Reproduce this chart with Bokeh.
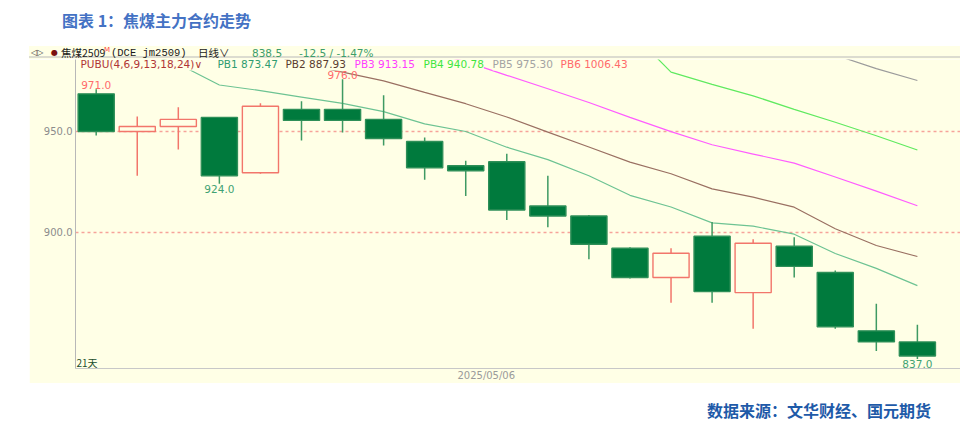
import numpy as np
from bokeh.plotting import figure
from bokeh.models import (ColumnDataSource, Range1d, FixedTicker, NumeralTickFormatter,
                          Label, Div)
from bokeh.layouts import column
from bokeh.embed import file_html
from bokeh.resources import INLINE

# ---------------- data ----------------
opens  = [968.7, 950.0, 952.5, 957.0, 929.5, 961.0, 961.0, 956.0, 945.0, 933.0, 935.0,
          913.0, 908.0, 892.0, 877.5, 898.0, 870.0, 893.0, 880.0, 851.0, 845.5]
highs  = [971.0, 957.5, 962.0, 957.0, 964.0, 965.0, 976.0, 968.0, 947.0, 935.5, 939.0,
          928.0, 908.5, 892.5, 892.0, 905.0, 896.5, 897.5, 881.0, 864.5, 854.0]
lows   = [948.0, 928.0, 941.0, 924.0, 929.0, 945.5, 949.5, 943.0, 926.0, 918.0, 906.0,
          902.5, 886.5, 877.0, 865.0, 865.0, 852.0, 877.5, 852.0, 841.0, 837.0]
closes = [950.0, 952.5, 956.0, 928.0, 962.5, 955.5, 955.5, 946.5, 932.0, 930.5, 911.0,
          908.0, 894.0, 877.5, 889.5, 870.5, 894.5, 883.0, 853.0, 845.5, 838.5]

nan = float("nan")
pb1 = [996.0, 990.0, 983.5, 973.1, 970.3, 967.1, 964.0, 959.9, 953.8, 950.0, 942.2,
       936.0, 928.0, 918.3, 912.5, 904.6, 903.0, 899.0, 889.4, 882.0, 873.47]
pb2 = [nan, nan, nan, 994.0, 990.0, 983.5, 979.5, 975.1, 969.4, 963.8, 957.2,
       949.7, 942.3, 934.8, 929.0, 921.5, 917.4, 912.4, 901.7, 893.4, 887.93]
pb3 = [nan, nan, nan, nan, nan, nan, nan, 996.0, 990.0, 984.7, 977.9,
       971.2, 964.4, 957.0, 949.9, 943.4, 938.8, 934.3, 927.4, 920.4, 913.15]
pb4 = [nan, nan, nan, nan, nan, nan, nan, nan, nan, nan, nan,
       nan, nan, 1000.0, 979.5, 973.4, 967.7, 961.0, 954.6, 947.9, 940.78]
pb5 = [nan] * 18 + [988.0, 981.2, 975.30]
pb6 = [nan] * 20 + [1006.43]

prev_settle = 851.0
y_ticks = [900, 950]
date_tick = 9.5
date_label = "2025/05/06"
hi_idx = [0, 6]
lo_idx = [3, 20]
n_days = len(closes)

# ---------------- styles ----------------
CREAM = "#FFFFE6"
GREEN = "#007A3D"
RED = "#F2766B"
NUMF = "DejaVu Sans"
CJK = "Noto Sans CJK SC"
FIG_LEFT = 29

x = np.arange(n_days)
up = [c >= o for o, c in zip(opens, closes)]
src = ColumnDataSource(dict(
    x=x, high=highs, low=lows,
    top=[max(o, c) for o, c in zip(opens, closes)],
    bottom=[min(o, c) for o, c in zip(opens, closes)],
    fill=[CREAM if u else GREEN for u in up],
    line=[RED if u else "#2E8F58" for u in up],
    wick=[RED if u else "#3E9A63" for u in up],
))

p = figure(frame_width=885, frame_height=309, output_backend="svg", toolbar_location=None,
           x_range=Range1d(-0.504, 21.05), y_range=Range1d(832.3, 985.75),
           min_border_left=46, min_border_right=0, min_border_top=0, min_border_bottom=12,
           background_fill_color=CREAM, border_fill_color=CREAM, outline_line_color=None,
           margin=(0, 0, 0, FIG_LEFT))

p.xgrid.visible = False
p.ygrid.ticker = FixedTicker(ticks=y_ticks)
p.ygrid.grid_line_color = "#F6A39A"
p.ygrid.grid_line_dash = "3 3"
p.ygrid.grid_line_width = 1.5

p.yaxis.ticker = FixedTicker(ticks=y_ticks)
p.yaxis.formatter = NumeralTickFormatter(format="0.0")
p.yaxis.major_tick_in = 0
p.yaxis.major_tick_out = 0
p.yaxis.minor_tick_in = 0
p.yaxis.minor_tick_out = 0
p.yaxis.axis_line_color = "#B8B8B8"
p.yaxis.major_label_text_color = "#8C8C8C"
p.yaxis.major_label_text_font = NUMF
p.yaxis.major_label_text_font_size = "10px"
p.yaxis.major_label_standoff = 3

p.xaxis.ticker = FixedTicker(ticks=[date_tick])
p.xaxis.major_label_overrides = {date_tick: date_label}
p.xaxis.major_tick_in = 0
p.xaxis.major_tick_out = 0
p.xaxis.minor_tick_in = 0
p.xaxis.minor_tick_out = 0
p.xaxis.axis_line_color = "#C8C8C8"
p.xaxis.major_label_text_color = "#9A9A9A"
p.xaxis.major_label_text_font = NUMF
p.xaxis.major_label_text_font_size = "10px"
p.xaxis.major_label_standoff = 1

# moving-average (PUBU) lines
for vals, col in [(pb1, "#6DC393"), (pb2, "#9A7062"), (pb3, "#FF5CFF"),
                  (pb4, "#5FEA5F"), (pb5, "#9C9C9C"), (pb6, "#FF7070")]:
    p.line(x, vals, line_color=col, line_width=1.2)

# candles
p.segment(x0="x", y0="low", x1="x", y1="high", line_color="wick", line_width=1.5, source=src)
p.vbar(x="x", width=0.88, top="top", bottom="bottom", fill_color="fill",
       line_color="line", line_width=1.4, source=src)


def xd(px):
    return (px - 95.7) / 41.05


def yd(py):
    return 950 + (131 - py) / 2.014


def lab(px, py, text, color, font=NUMF, size="10.5px", bg=True):
    kw = dict(x=xd(px), y=yd(py), text=text, text_color=color, text_font=font,
              text_font_size=size, text_baseline="middle", text_align="left", padding=0)
    if bg:
        kw.update(background_fill_color=CREAM, background_fill_alpha=1.0)
    p.add_layout(Label(**kw))


# header row 2 (indicator legend) inside the plot
lab(80, 64, "PUBU(4,6,9,13,18,24)∨", "#B03535")
legend_items = [(217, "PB1", pb1, "#2F9C70"), (285, "PB2", pb2, "#5A3C30"),
                (354, "PB3", pb3, "#FF3CFF"), (423, "PB4", pb4, "#3EE63E"),
                (492, "PB5", pb5, "#A3A3A3"), (560, "PB6", pb6, "#FF6A6A")]
for px, name, vals, col in legend_items:
    lab(px, 64, f"{name} {vals[-1]:.2f}", col)

lab(76, 362, f"{n_days}天", "#1B4D2B", font=CJK, size="10px", bg=False)

# high / low labels (drawn on top of the legend strip)
for i in hi_idx:
    p.add_layout(Label(x=x[i], y=highs[i], text=f"{highs[i]:.1f}", text_color="#FF6B6B",
                       text_align="center", text_baseline="bottom", y_offset=0,
                       text_font=NUMF, text_font_size="10.5px"))
for i in lo_idx:
    p.add_layout(Label(x=x[i], y=lows[i], text=f"{lows[i]:.1f}", text_color="#3FA273",
                       text_align="center", text_baseline="top", y_offset=-1,
                       text_font=NUMF, text_font_size="10.5px"))

# header row 1 (contract line) as an HTML strip above the plot
chg = closes[-1] - prev_settle
row1 = [
    (31, 0, "◁▷", "#404040", NUMF, "8px"),
    (51, 0, "●", "#7A1010", NUMF, "8px"),
    (61, 0, "焦煤2509", "#1A1A1A", CJK, "10.5px"),
    (104, -3, "M", "#FF4444", NUMF, "7px"),
    (111, 0, "(DCE jm2509)", "#1A1A1A", "Liberation Mono", "10.5px"),
    (198, 0, "日线∨", "#1A1A1A", CJK, "10.5px"),
    (252, 0, f"{closes[-1]:.1f}", "#3D9D6A", NUMF, "10.5px"),
    (299, 0, f"{chg:.1f} / {chg / prev_settle * 100:.2f}%", "#3D9D6A", NUMF, "10.5px"),
]
spans = "".join(
    f'<span style="position:absolute;left:{px - FIG_LEFT}px;top:{tp}px;color:{c};'
    f'font-family:\'{f}\';font-size:{s};line-height:12px;white-space:nowrap">{t}</span>'
    for px, tp, t, c, f, s in row1)
header_html = (f'<div style="position:relative;width:931px;height:11px;overflow:visible;'
               f'background:{CREAM};border-bottom:2px solid #DCDCD0">{spans}</div>')
header_div = Div(text=header_html, width=931, height=13, margin=(0, 0, 0, FIG_LEFT),
                 styles={"background-color": CREAM, "overflow": "visible"})

title_div = Div(text="图表 1：焦煤主力合约走势", width=400, height=46, margin=(0, 0, 0, 62),
                styles={"font-family": CJK, "font-size": "16px", "font-weight": "bold",
                        "color": "#4472C4", "line-height": "40px"})
source_div = Div(text="数据来源：文华财经、国元期货", width=260, height=24, margin=(15, 0, 0, 707),
                 styles={"font-family": CJK, "font-size": "16px", "font-weight": "bold",
                         "color": "#1E5AA8", "line-height": "24px"})

layout = column(title_div, header_div, p, source_div, spacing=0)
open("out.html", "w").write(file_html(layout, INLINE))
